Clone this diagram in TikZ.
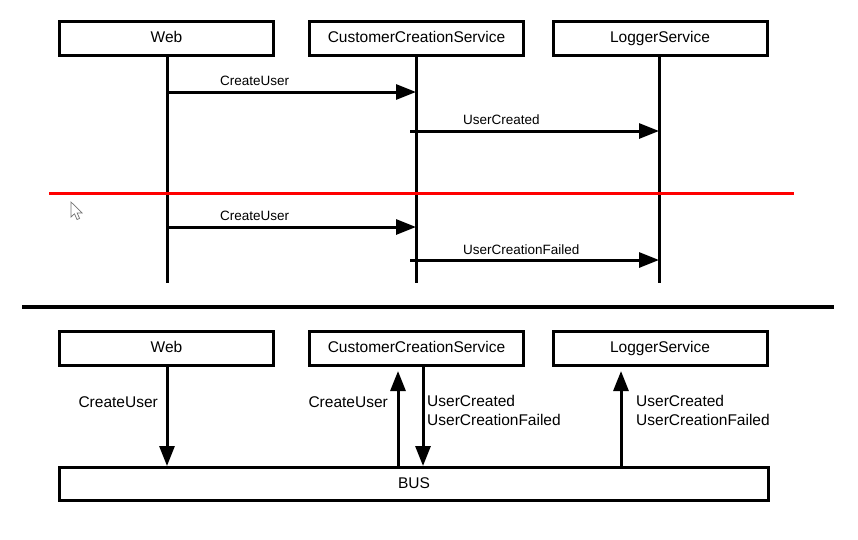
\documentclass[tikz,border=0pt]{standalone}
\usepackage{fontspec}
\setmainfont{Liberation Sans}
\usetikzlibrary{arrows.meta}
\begin{document}
\begin{tikzpicture}[x=1pt,y=-1pt,
  actor/.style={draw=black,line width=3pt,fill=white,rectangle,minimum width=214pt,
    minimum height=34pt,inner sep=0pt,text height=11pt,text depth=3pt,
    font=\fontsize{15.5}{19}\selectfont},
  lifeline/.style={line width=3pt},
  msg/.style={line width=3pt,-{Triangle[length=20pt,width=15pt]}},
  msglabel/.style={inner sep=0pt,anchor=base west,font=\fontsize{13.5}{16}\selectfont},
  buslabel/.style={inner sep=0pt,align=left,font=\fontsize{15.5}{19}\selectfont},
  divider/.style={line width=4pt},
  cut/.style={line width=3pt,draw={rgb,255:red,255;green,0;blue,0}}]
\useasboundingbox (0,0) rectangle (858,539);

% ---------- sequence view ----------
\node[actor] (web)  at (166.5,38.5) {Web};
\node[actor] (ccs)  at (416.5,38.5) {CustomerCreationService};
\node[actor] (log)  at (660,38.5)   {LoggerService};

\coordinate (webEnd) at (167,283);
\coordinate (ccsEnd) at (416,283);
\coordinate (logEnd) at (659,283);
\draw[lifeline] (web.south -| webEnd) -- (webEnd);
\draw[lifeline] (ccs.south -| ccsEnd) -- (ccsEnd);
\draw[lifeline] (log.south -| logEnd) -- (logEnd);

% first run: success
\coordinate (m1s) at (167,92);  \coordinate (m1e) at (416,92);
\coordinate (m2s) at (410,131); \coordinate (m2e) at (659,131);
\draw[msg] (m1s) -- (m1e);
\node[msglabel] (m1l) at (220,85) {CreateUser};
\draw[msg] (m2s) -- (m2e);
\node[msglabel] (m2l) at (463,124) {UserCreated};

% separator between runs
\coordinate (cutL) at (49,193); \coordinate (cutR) at (794,193);
\draw[cut] (cutL) -- (cutR);

% pointer
\draw[line width=0.7pt,draw=black!55,fill=white,line join=miter]
  (71,202) -- (71,217) -- (74.5,213.8) -- (77,219.5) -- (79.6,218.4)
  -- (77.1,212.9) -- (82,212.9) -- cycle;

% second run: failure
\coordinate (m3s) at (167,227); \coordinate (m3e) at (416,227);
\coordinate (m4s) at (410,260); \coordinate (m4e) at (659,260);
\draw[msg] (m3s) -- (m3e);
\node[msglabel] (m3l) at (220,220) {CreateUser};
\draw[msg] (m4s) -- (m4e);
\node[msglabel] (m4l) at (463,254) {UserCreationFailed};

% ---------- divider ----------
\coordinate (divL) at (22,307); \coordinate (divR) at (834,307);
\draw[divider] (divL) -- (divR);

% ---------- bus view ----------
\node[actor] (web2) at (166.5,348.5) {Web};
\node[actor] (ccs2) at (416.5,348.5) {CustomerCreationService};
\node[actor] (log2) at (660,348.5)   {LoggerService};
\node[actor,minimum width=709pt,minimum height=33pt] (bus) at (414,484) {BUS};

\draw[msg] (web2.south -| 167,0) -- (bus.north -| 167,0);
\node[buslabel,anchor=base east] (l1) at (158,407) {CreateUser};

\coordinate (ccsIn)  at (398,371);
\coordinate (ccsOut) at (423,367);
\draw[msg] (bus.north -| ccsIn) -- (ccsIn);
\node[buslabel,anchor=base east] (l2) at (388,407) {CreateUser};
\draw[msg] (ccsOut) -- (bus.north -| ccsOut);
\node[buslabel,anchor=north west] (l3) at (427,395.5) {UserCreated\\UserCreationFailed};

\coordinate (logIn) at (621,371);
\draw[msg] (bus.north -| logIn) -- (logIn);
\node[buslabel,anchor=north west] (l4) at (636,395.5) {UserCreated\\UserCreationFailed};
\end{tikzpicture}
\end{document}
